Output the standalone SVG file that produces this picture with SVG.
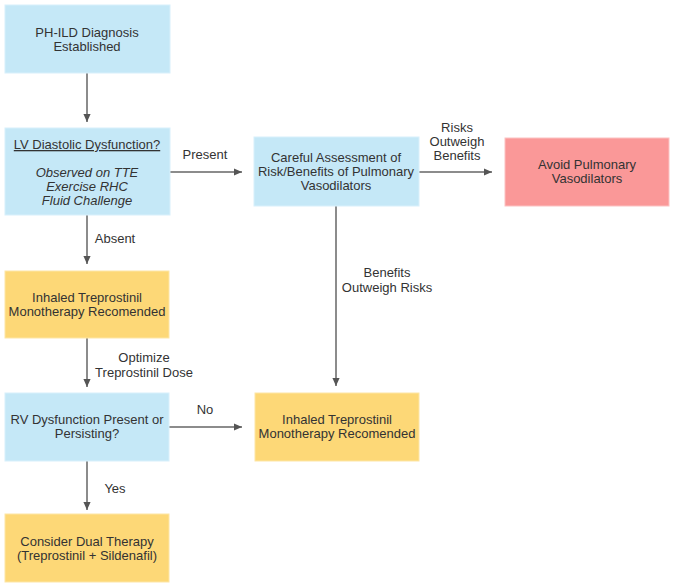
<svg xmlns="http://www.w3.org/2000/svg" width="673" height="588" viewBox="0 0 673 588">
<style>
.blue{fill:#c5e8f7;stroke:#d8f0fb;stroke-width:1}
.yellow{fill:#fdd877;stroke:#fde6a6;stroke-width:1}
.red{fill:#fa9898;stroke:#fcc2c2;stroke-width:1}
text{font-family:"Liberation Sans",Arial,sans-serif;font-size:13px;fill:#333;text-anchor:middle}
.conn line{stroke:#666;stroke-width:1.5;fill:none}
</style>
<defs>
<marker id="ah" viewBox="0 0 10 10" refX="10" refY="5" markerWidth="8" markerHeight="8" markerUnits="userSpaceOnUse" orient="auto">
<path d="M0,0.5 L10,5 L0,9.5 z" fill="#555"/>
</marker>
</defs>
<rect width="673" height="588" fill="#fff"/>
<g class="conn">
<line x1="87" y1="73" x2="87" y2="122" marker-end="url(#ah)"/>
<line x1="87" y1="215" x2="87" y2="264" marker-end="url(#ah)"/>
<line x1="87" y1="338" x2="87" y2="387" marker-end="url(#ah)"/>
<line x1="87" y1="461" x2="87" y2="510" marker-end="url(#ah)"/>
<line x1="169" y1="427" x2="242" y2="427" marker-end="url(#ah)"/>
<line x1="170" y1="172" x2="242" y2="172" marker-end="url(#ah)"/>
<line x1="419" y1="172" x2="492" y2="172" marker-end="url(#ah)"/>
<line x1="336" y1="206" x2="336" y2="386" marker-end="url(#ah)"/>
<text x="205" y="159">Present</text>
<text x="457" y="132">Risks</text>
<text x="457" y="146">Outweigh</text>
<text x="457" y="160">Benefits</text>
<text x="115" y="243">Absent</text>
<text x="144" y="362">Optimize</text>
<text x="144" y="377">Treprostinil Dose</text>
<text x="387" y="277">Benefits</text>
<text x="387" y="292">Outweigh Risks</text>
<text x="205" y="414">No</text>
<text x="115" y="493">Yes</text>
</g>
<g id="diagnosis">
<rect class="blue" x="5" y="5" width="165" height="68"/>
<text x="87" y="37">PH-ILD Diagnosis</text>
<text x="87" y="51">Established</text>
</g>
<g id="lv">
<rect class="blue" x="5" y="128" width="165" height="87"/>
<text x="87" y="149" text-decoration="underline">LV Diastolic Dysfunction?</text>
<text x="87" y="177" font-style="italic">Observed on TTE</text>
<text x="87" y="191" font-style="italic">Exercise RHC</text>
<text x="87" y="205" font-style="italic">Fluid Challenge</text>
</g>
<g id="careful">
<rect class="blue" x="254" y="137" width="165" height="69"/>
<text x="336" y="162">Careful Assessment of</text>
<text x="336" y="176">Risk/Benefits of Pulmonary</text>
<text x="336" y="190">Vasodilators</text>
</g>
<g id="avoid">
<rect class="red" x="505" y="138" width="164" height="68"/>
<text x="587" y="169">Avoid Pulmonary</text>
<text x="587" y="183">Vasodilators</text>
</g>
<g id="inhaled-left">
<rect class="yellow" x="5" y="271" width="164" height="67"/>
<text x="87" y="302">Inhaled Treprostinil</text>
<text x="87" y="316">Monotherapy Recomended</text>
</g>
<g id="rv">
<rect class="blue" x="5" y="393" width="164" height="68"/>
<text x="87" y="424">RV Dysfunction Present or</text>
<text x="87" y="438">Persisting?</text>
</g>
<g id="inhaled-right">
<rect class="yellow" x="255" y="393" width="164" height="68"/>
<text x="337" y="424">Inhaled Treprostinil</text>
<text x="337" y="438">Monotherapy Recomended</text>
</g>
<g id="dual">
<rect class="yellow" x="5" y="514" width="164" height="68"/>
<text x="87" y="546">Consider Dual Therapy</text>
<text x="87" y="560">(Treprostinil + Sildenafil)</text>
</g>
</svg>
